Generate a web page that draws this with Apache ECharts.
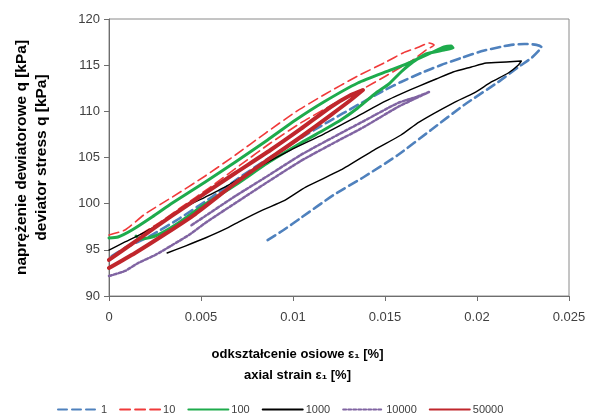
<!DOCTYPE html>
<html>
<head>
<meta charset="utf-8">
<script src="https://cdn.jsdelivr.net/npm/echarts@6/dist/echarts.min.js"></script>
<style>
  html, body { margin: 0; padding: 0; background: #fff; }
  #chart { width: 589px; height: 420px; }
</style>
</head>
<body>
<div id="chart"></div>
<script>
// Hysteresis loops: axial strain [%] vs deviator stress [kPa], one loop per cycle number
const cycleNames = ['1', '10', '100', '1000', '10000', '50000'];

const strain1 = [0.00862,0.00949,0.01042,0.01221,0.01385,0.01570,0.01750,0.01930,0.02116,0.02225,0.02296,0.02339,0.02350,0.02323,0.02258,0.02187,0.02132,0.02023,0.01914,0.01805,0.01696,0.01587,0.01500,0.01352,0.01189,0.01042,0.00878,0.00714,0.00551,0.00387,0.00224,0.00087,0];
const stress1 = [96.06,97.15,98.45,100.94,102.89,105.27,107.98,110.69,113.18,114.80,115.78,116.64,116.97,117.20,117.30,117.20,117.00,116.50,115.78,115.02,114.15,113.18,112.31,110.69,108.84,107.11,105.05,102.89,100.61,98.45,96.50,95.20,94.12];

const strain10 = [0,0.00087,0.00196,0.00344,0.00523,0.00687,0.00851,0.01014,0.01167,0.01352,0.01505,0.01598,0.01685,0.01739,0.01767,0.01723,0.01652,0.01560,0.01505,0.01369,0.01221,0.01042,0.00878,0.00714,0.00551,0.00387,0.00278,0.00158];
const stress10 = [96.61,97.15,98.88,100.72,103.00,105.27,107.65,109.93,111.77,113.83,115.34,116.32,116.97,117.40,117.18,116.64,115.56,114.48,113.83,112.31,110.79,108.74,106.57,104.19,101.80,99.53,98.01,96.50];

const strain100 = [0,0.00049,0.00125,0.00234,0.00344,0.00523,0.00687,0.00862,0.01014,0.01167,0.01352,0.01532,0.01641,0.01750,0.01821,0.01859,0.01870,0.01821,0.01723,0.01652,0.01587,0.01521,0.01451,0.01352,0.01260,0.01167,0.01042,0.00862,0.00687,0.00523,0.00360,0.00251,0.00169,0.00147];
const stress100 = [96.28,96.39,97.15,98.56,100.07,102.35,104.51,106.90,109.06,111.01,113.07,114.48,115.34,116.32,116.97,117.08,116.86,116.64,116.21,115.34,114.26,112.96,111.99,110.36,109.06,107.98,106.57,104.40,102.02,99.96,97.69,96.50,96.17,96.50];

const strain1000 = [0.00316,0.00414,0.00523,0.00633,0.00703,0.00834,0.00949,0.01069,0.01260,0.01440,0.01587,0.01685,0.01870,0.01985,0.02078,0.02170,0.02225,0.02241,0.02159,0.02050,0.01969,0.01870,0.01778,0.01685,0.01587,0.01505,0.01352,0.01167,0.00987,0.00834,0.00649,0.00523,0.00414,0.00305,0.00196,0.00087,0];
const stress1000 = [94.66,95.41,96.28,97.26,98.01,99.31,100.29,101.80,103.65,105.81,107.44,108.84,110.90,111.99,113.18,114.15,115.02,115.45,115.34,115.23,114.80,114.26,113.50,112.74,111.88,111.12,109.49,107.54,105.81,104.19,102.02,100.72,99.64,98.23,96.93,95.85,94.98];

const strain10000 = [0,0.00087,0.00158,0.00251,0.00344,0.00442,0.00523,0.00687,0.00862,0.01042,0.01221,0.01385,0.01570,0.01739,0.01669,0.01570,0.01385,0.01221,0.01042,0.00862,0.00687,0.00523,0.00442];
const stress10000 = [92.17,92.71,93.57,94.44,95.52,96.71,97.91,100.07,102.35,104.62,106.57,108.30,110.47,112.09,111.55,110.90,108.95,107.22,105.27,103.00,100.83,98.66,97.58];

const strain50000 = [0,0.00142,0.00305,0.00469,0.00687,0.00878,0.01042,0.01205,0.01314,0.01380,0.01314,0.01205,0.01042,0.00878,0.00687,0.00523,0.00333,0.00169,0];
const stress50000 = [93.03,94.66,96.71,98.88,102.24,104.95,107.22,109.60,111.23,112.31,111.77,110.47,108.09,105.81,103.32,101.15,98.56,96.28,93.90];

const xTicks = { min: 0, max: 0.025, step: 0.005 };
const yTicks = { min: 90, max: 120, step: 5 };

const loops = [
  { strain: strain1,     stress: stress1,     color: '#4F81BD', width: 2.6, type: [9, 5] },
  { strain: strain10,    stress: stress10,    color: '#F03A3A', width: 1.6, type: [10, 5] },
  { strain: strain100,   stress: stress100,   color: '#1EAB4C', width: 3,   type: 'solid' },
  { strain: strain1000,  stress: stress1000,  color: '#000000', width: 1.4, type: 'solid' },
  { strain: strain10000, stress: stress10000, color: '#8064A2', width: 2.5, type: [3, 2] },
  { strain: strain50000, stress: stress50000, color: '#C0262C', width: 4,   type: 'solid' }
];

const pairs = (xs, ys) => xs.map((x, i) => [x, ys[i]]);
const FONT = '"Liberation Sans", Arial, sans-serif';

const chart = echarts.init(document.getElementById('chart'), null, { renderer: 'canvas' });
chart.setOption({
  animation: false,
  backgroundColor: '#ffffff',
  grid: { left: 109, right: 20, top: 19, bottom: 124, show: true, borderColor: '#8a8a8a', borderWidth: 1 },
  legend: {
    left: 52, top: 399,
    itemWidth: 40, itemHeight: 10, itemGap: 12,
    itemStyle: { opacity: 0 },
    textStyle: { fontFamily: FONT, fontSize: 11, color: '#404040', padding: [0, 0, 0, -2] },
    data: cycleNames
  },
  xAxis: {
    type: 'value',
    min: xTicks.min, max: xTicks.max, interval: xTicks.step,
    axisLine: { show: true, lineStyle: { color: '#6e6e6e', width: 1 } },
    axisTick: { show: true, length: 5, lineStyle: { color: '#6e6e6e' } },
    splitLine: { show: false },
    axisLabel: { fontFamily: FONT, fontSize: 13, color: '#404040', margin: 15, formatter: v => String(+v.toFixed(3)) },
    name: 'odkształcenie osiowe ε₁ [%]\naxial strain ε₁ [%]',
    nameLocation: 'middle', nameGap: 48,
    nameTextStyle: { fontFamily: FONT, fontSize: 13, fontWeight: 'bold', color: '#000', lineHeight: 21, padding: [0, 83, 0, 0] }
  },
  yAxis: {
    type: 'value',
    min: yTicks.min, max: yTicks.max, interval: yTicks.step,
    axisLine: { show: true, lineStyle: { color: '#6e6e6e', width: 1 } },
    axisTick: { show: true, length: 5, lineStyle: { color: '#6e6e6e' } },
    splitLine: { show: false },
    axisLabel: { fontFamily: FONT, fontSize: 13, color: '#404040', margin: 9 },
    name: 'naprężenie dewiatorowe q [kPa]\ndeviator stress q [kPa]',
    nameLocation: 'middle', nameGap: 57, nameRotate: 90,
    nameTextStyle: { fontFamily: FONT, fontSize: 15.5, fontWeight: 'bold', color: '#000', lineHeight: 20 }
  },
  series: loops.map((l, i) => ({
    name: cycleNames[i],
    type: 'line',
    data: pairs(l.strain, l.stress),
    showSymbol: false,
    symbol: 'none',
    smooth: 0.2,
    lineStyle: { color: l.color, width: l.width, type: l.type, cap: 'round', join: 'round' },
    itemStyle: { color: l.color },
    z: 2 + i
  }))
});
</script>
</body>
</html>
